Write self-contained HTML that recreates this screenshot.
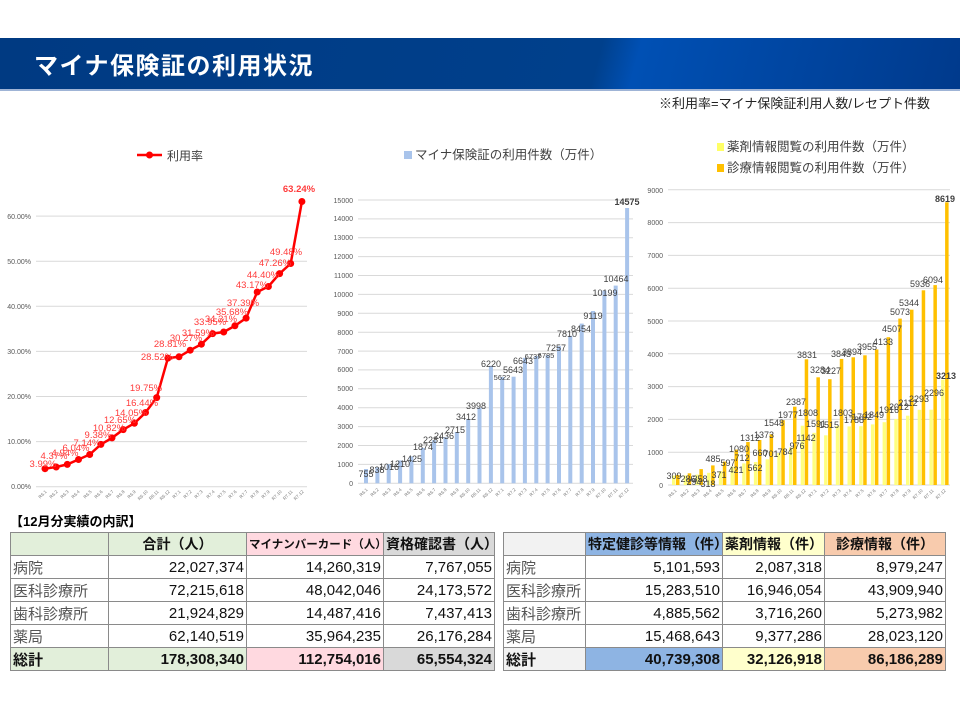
<!DOCTYPE html>
<html><head><meta charset="utf-8">
<style>
body{margin:0;width:960px;height:720px;background:#fff;position:relative;overflow:hidden;font-family:"Liberation Sans","Noto Sans CJK JP",sans-serif;}
.hdr{position:absolute;left:0;top:38px;width:960px;height:51px;background:linear-gradient(105deg,#003a82 0%,#00408c 62%,#0050b4 66%,#003a8c 100%);border-bottom:2px solid #9fb4d6;}
.hdr span{position:absolute;left:34px;top:8px;color:#fff;font-size:24px;font-weight:bold;letter-spacing:1.5px;}
.note{position:absolute;left:659px;top:93px;font-size:13px;color:#222;}
svg{position:absolute;left:0;top:0;}
table{position:absolute;border-collapse:collapse;font-size:15px;}
td{border:1px solid #8a8a8a;height:22px;padding:0 2px;text-align:right;color:#111;white-space:nowrap;}
td.l{text-align:left;color:#555;}
tr.h td{text-align:center;font-weight:bold;font-size:14px;}
tr.t td{font-weight:bold;}
.ttl{position:absolute;left:10px;top:511px;font-size:13px;font-weight:bold;}
</style></head><body>
<div class="hdr"><span>マイナ保険証の利用状況</span></div>
<div class="note">※利用率=マイナ保険証利用人数/レセプト件数</div>

<svg width="960" height="520" font-family="Liberation Sans, Noto Sans CJK JP, sans-serif">
<!-- LEFT CHART -->
<g stroke="#d9d9d9" stroke-width="1">
<line x1="36" x2="307" y1="486.7" y2="486.7"/><line x1="36" x2="307" y1="441.6" y2="441.6"/><line x1="36" x2="307" y1="396.5" y2="396.5"/><line x1="36" x2="307" y1="351.4" y2="351.4"/><line x1="36" x2="307" y1="306.3" y2="306.3"/><line x1="36" x2="307" y1="261.2" y2="261.2"/><line x1="36" x2="307" y1="216.1" y2="216.1"/>
</g>
<g font-size="7" fill="#595959" text-anchor="end">
<text x="31" y="489">0.00%</text><text x="31" y="444">10.00%</text><text x="31" y="399">20.00%</text><text x="31" y="354">30.00%</text><text x="31" y="309">40.00%</text><text x="31" y="264">50.00%</text><text x="31" y="219">60.00%</text>
</g>
<line x1="137" x2="162" y1="155" y2="155" stroke="#f00" stroke-width="2.5"/><circle cx="149.5" cy="155" r="3.5" fill="#f00"/>
<text x="167" y="160" font-size="12" fill="#404040">利用率</text>
<polyline fill="none" stroke="#f00" stroke-width="2.5" points="45,468.7 56.2,467 67.3,464.4 78.5,459.5 89.7,454.5 100.9,444.4 112,437.9 123.2,429.6 134.4,423.3 145.5,412.5 156.7,397.6 167.9,358.1 179,356.8 190.2,350.2 201.4,344.2 212.6,333.6 223.7,332 234.9,325.8 246.1,318.1 257.2,292 268.4,286.5 279.6,273.6 290.7,263.5 301.9,201.5"/>
<g fill="#f00">
<circle cx="45" cy="468.7" r="3.5"/><circle cx="56.2" cy="467" r="3.5"/><circle cx="67.3" cy="464.4" r="3.5"/><circle cx="78.5" cy="459.5" r="3.5"/><circle cx="89.7" cy="454.5" r="3.5"/><circle cx="100.9" cy="444.4" r="3.5"/><circle cx="112" cy="437.9" r="3.5"/><circle cx="123.2" cy="429.6" r="3.5"/><circle cx="134.4" cy="423.3" r="3.5"/><circle cx="145.5" cy="412.5" r="3.5"/><circle cx="156.7" cy="397.6" r="3.5"/><circle cx="167.9" cy="358.1" r="3.5"/><circle cx="179" cy="356.8" r="3.5"/><circle cx="190.2" cy="350.2" r="3.5"/><circle cx="201.4" cy="344.2" r="3.5"/><circle cx="212.6" cy="333.6" r="3.5"/><circle cx="223.7" cy="332" r="3.5"/><circle cx="234.9" cy="325.8" r="3.5"/><circle cx="246.1" cy="318.1" r="3.5"/><circle cx="257.2" cy="292" r="3.5"/><circle cx="268.4" cy="286.5" r="3.5"/><circle cx="279.6" cy="273.6" r="3.5"/><circle cx="290.7" cy="263.5" r="3.5"/><circle cx="301.9" cy="201.5" r="3.5"/>
</g>
<g font-size="9.5" fill="#ff3b3b" text-anchor="middle">
<text x="43" y="467">3.99%</text><text x="54" y="459">4.37%</text><text x="65" y="456">4.94%</text><text x="76" y="451">6.04%</text><text x="87" y="446">7.14%</text><text x="98" y="438">9.38%</text><text x="109" y="431">10.82%</text><text x="120" y="423">12.65%</text><text x="131" y="416">14.05%</text><text x="142" y="406">16.44%</text><text x="146" y="391">19.75%</text><text x="157" y="360">28.52%</text><text x="170" y="347">28.81%</text><text x="186" y="341">30.27%</text><text x="198" y="336">31.59%</text><text x="210" y="325">33.95%</text><text x="221" y="322">34.31%</text><text x="232" y="315">35.68%</text><text x="243" y="306">37.39%</text><text x="252" y="288">43.17%</text><text x="263" y="278">44.40%</text><text x="275" y="266">47.26%</text><text x="286" y="255">49.48%</text>
<text x="299" y="192" font-weight="bold">63.24%</text>
</g>
<g font-size="4.5" fill="#777" text-anchor="end">
<text transform="translate(47,492) rotate(-45)">R6.1</text><text transform="translate(58,492) rotate(-45)">R6.2</text><text transform="translate(69,492) rotate(-45)">R6.3</text><text transform="translate(80,492) rotate(-45)">R6.4</text><text transform="translate(92,492) rotate(-45)">R6.5</text><text transform="translate(103,492) rotate(-45)">R6.6</text><text transform="translate(114,492) rotate(-45)">R6.7</text><text transform="translate(125,492) rotate(-45)">R6.8</text><text transform="translate(136,492) rotate(-45)">R6.9</text><text transform="translate(148,492) rotate(-45)">R6.10</text><text transform="translate(159,492) rotate(-45)">R6.11</text><text transform="translate(170,492) rotate(-45)">R6.12</text><text transform="translate(181,492) rotate(-45)">R7.1</text><text transform="translate(192,492) rotate(-45)">R7.2</text><text transform="translate(203,492) rotate(-45)">R7.3</text><text transform="translate(215,492) rotate(-45)">R7.4</text><text transform="translate(226,492) rotate(-45)">R7.5</text><text transform="translate(237,492) rotate(-45)">R7.6</text><text transform="translate(248,492) rotate(-45)">R7.7</text><text transform="translate(259,492) rotate(-45)">R7.8</text><text transform="translate(270,492) rotate(-45)">R7.9</text><text transform="translate(282,492) rotate(-45)">R7.10</text><text transform="translate(293,492) rotate(-45)">R7.11</text><text transform="translate(304,492) rotate(-45)">R7.12</text>
</g>

<!-- MIDDLE CHART -->
<rect x="404" y="151" width="8" height="8" fill="#a9c4eb"/>
<text x="415" y="159" font-size="12.5" fill="#404040">マイナ保険証の利用件数（万件）</text>
<g stroke="#d9d9d9" stroke-width="1">
<line x1="358" x2="633" y1="483.3" y2="483.3"/><line x1="358" x2="633" y1="464.4" y2="464.4"/><line x1="358" x2="633" y1="445.5" y2="445.5"/><line x1="358" x2="633" y1="426.6" y2="426.6"/><line x1="358" x2="633" y1="407.7" y2="407.7"/><line x1="358" x2="633" y1="388.8" y2="388.8"/><line x1="358" x2="633" y1="369.9" y2="369.9"/><line x1="358" x2="633" y1="351.1" y2="351.1"/><line x1="358" x2="633" y1="332.2" y2="332.2"/><line x1="358" x2="633" y1="313.3" y2="313.3"/><line x1="358" x2="633" y1="294.4" y2="294.4"/><line x1="358" x2="633" y1="275.5" y2="275.5"/><line x1="358" x2="633" y1="256.6" y2="256.6"/><line x1="358" x2="633" y1="237.7" y2="237.7"/><line x1="358" x2="633" y1="218.9" y2="218.9"/><line x1="358" x2="633" y1="200" y2="200"/>
</g>
<g font-size="7" fill="#595959" text-anchor="end">
<text x="353" y="486">0</text><text x="353" y="467">1000</text><text x="353" y="448">2000</text><text x="353" y="429">3000</text><text x="353" y="410">4000</text><text x="353" y="391">5000</text><text x="353" y="372">6000</text><text x="353" y="354">7000</text><text x="353" y="335">8000</text><text x="353" y="316">9000</text><text x="353" y="297">10000</text><text x="353" y="278">11000</text><text x="353" y="259">12000</text><text x="353" y="240">13000</text><text x="353" y="221">14000</text><text x="353" y="203">15000</text>
</g>
<g fill="#a9c4eb">
<rect x="364" y="469" width="4" height="14.3"/><rect x="375.4" y="467.5" width="4" height="15.8"/><rect x="386.7" y="464.1" width="4" height="19.2"/><rect x="398.1" y="460.4" width="4" height="22.9"/><rect x="409.4" y="456.4" width="4" height="26.9"/><rect x="420.8" y="447.9" width="4" height="35.4"/><rect x="432.1" y="440.2" width="4" height="43.1"/><rect x="443.5" y="437.3" width="4" height="46"/><rect x="454.8" y="432" width="4" height="51.3"/><rect x="466.2" y="418.9" width="4" height="64.4"/><rect x="477.5" y="407.8" width="4" height="75.5"/><rect x="488.9" y="365.8" width="4" height="117.5"/><rect x="500.2" y="377.1" width="4" height="106.2"/><rect x="511.6" y="376.7" width="4" height="106.6"/><rect x="522.9" y="357.8" width="4" height="125.5"/><rect x="534.3" y="356" width="4" height="127.3"/><rect x="545.6" y="355.1" width="4" height="128.2"/><rect x="557" y="346.2" width="4" height="137.1"/><rect x="568.3" y="335.8" width="4" height="147.5"/><rect x="579.7" y="323.6" width="4" height="159.7"/><rect x="591" y="311" width="4" height="172.3"/><rect x="602.4" y="290.6" width="4" height="192.7"/><rect x="613.7" y="285.6" width="4" height="197.7"/><rect x="625.1" y="208" width="4" height="275.3"/>
</g>
<g font-size="9" fill="#404040" text-anchor="middle">
<text x="366" y="477">755</text><text x="377" y="473">838</text><text x="389" y="470">1016</text><text x="400" y="467">1210</text><text x="412" y="462">1425</text><text x="423" y="450">1874</text><text x="433" y="443">2281</text><text x="444" y="439">2436</text><text x="455" y="433">2715</text><text x="466" y="420">3412</text><text x="476" y="409">3998</text><text x="491" y="367">6220</text><text x="502" y="380" font-size="7.5">5622</text><text x="513" y="373">5643</text><text x="523" y="364">6643</text><text x="533" y="359" font-size="7.5">6737</text><text x="546" y="358" font-size="7.5">6785</text><text x="556" y="351">7257</text><text x="567" y="337">7810</text><text x="581" y="332">8454</text><text x="593" y="319">9119</text><text x="605" y="296">10199</text><text x="616" y="282">10464</text>
<text x="627" y="205" font-weight="bold">14575</text>
</g>
<g font-size="4.5" fill="#777" text-anchor="end">
<text transform="translate(368,490) rotate(-45)">R6.1</text><text transform="translate(379,490) rotate(-45)">R6.2</text><text transform="translate(391,490) rotate(-45)">R6.3</text><text transform="translate(402,490) rotate(-45)">R6.4</text><text transform="translate(413,490) rotate(-45)">R6.5</text><text transform="translate(425,490) rotate(-45)">R6.6</text><text transform="translate(436,490) rotate(-45)">R6.7</text><text transform="translate(447,490) rotate(-45)">R6.8</text><text transform="translate(459,490) rotate(-45)">R6.9</text><text transform="translate(470,490) rotate(-45)">R6.10</text><text transform="translate(481,490) rotate(-45)">R6.11</text><text transform="translate(493,490) rotate(-45)">R6.12</text><text transform="translate(504,490) rotate(-45)">R7.1</text><text transform="translate(516,490) rotate(-45)">R7.2</text><text transform="translate(527,490) rotate(-45)">R7.3</text><text transform="translate(538,490) rotate(-45)">R7.4</text><text transform="translate(550,490) rotate(-45)">R7.5</text><text transform="translate(561,490) rotate(-45)">R7.6</text><text transform="translate(572,490) rotate(-45)">R7.7</text><text transform="translate(584,490) rotate(-45)">R7.8</text><text transform="translate(595,490) rotate(-45)">R7.9</text><text transform="translate(606,490) rotate(-45)">R7.10</text><text transform="translate(618,490) rotate(-45)">R7.11</text><text transform="translate(629,490) rotate(-45)">R7.12</text>
</g>

<!-- RIGHT CHART -->
<rect x="717" y="143" width="7" height="8" fill="#ffff66"/>
<text x="727" y="151" font-size="12.5" fill="#404040">薬剤情報閲覧の利用件数（万件）</text>
<rect x="717" y="164" width="7" height="8" fill="#ffc000"/>
<text x="727" y="172" font-size="12.5" fill="#404040">診療情報閲覧の利用件数（万件）</text>
<g stroke="#d9d9d9" stroke-width="1">
<line x1="668" x2="950" y1="485" y2="485"/><line x1="668" x2="950" y1="452.2" y2="452.2"/><line x1="668" x2="950" y1="419.4" y2="419.4"/><line x1="668" x2="950" y1="386.6" y2="386.6"/><line x1="668" x2="950" y1="353.8" y2="353.8"/><line x1="668" x2="950" y1="321" y2="321"/><line x1="668" x2="950" y1="288.2" y2="288.2"/><line x1="668" x2="950" y1="255.4" y2="255.4"/><line x1="668" x2="950" y1="222.6" y2="222.6"/><line x1="668" x2="950" y1="189.8" y2="189.8"/>
</g>
<g font-size="7" fill="#595959" text-anchor="end">
<text x="663" y="488">0</text><text x="663" y="455">1000</text><text x="663" y="422">2000</text><text x="663" y="389">3000</text><text x="663" y="357">4000</text><text x="663" y="324">5000</text><text x="663" y="291">6000</text><text x="663" y="258">7000</text><text x="663" y="225">8000</text><text x="663" y="193">9000</text>
</g>
<g fill="#ffff80">
<rect x="672" y="475.6" width="3.5" height="9.4"/><rect x="683.7" y="475.4" width="3.5" height="9.6"/><rect x="695.4" y="474.6" width="3.5" height="10.4"/><rect x="707.1" y="472.8" width="3.5" height="12.2"/><rect x="718.8" y="471.2" width="3.5" height="13.8"/><rect x="730.5" y="466.6" width="3.5" height="18.4"/><rect x="742.2" y="463.4" width="3.5" height="21.6"/><rect x="753.9" y="462" width="3.5" height="23"/><rect x="765.6" y="459.3" width="3.5" height="25.7"/><rect x="777.3" y="453" width="3.5" height="32"/><rect x="789" y="447.5" width="3.5" height="37.5"/><rect x="800.7" y="425.7" width="3.5" height="59.3"/><rect x="812.4" y="432.8" width="3.5" height="52.2"/><rect x="824.1" y="435.3" width="3.5" height="49.7"/><rect x="835.8" y="425.9" width="3.5" height="59.1"/><rect x="847.5" y="426.4" width="3.5" height="58.6"/><rect x="859.2" y="426.2" width="3.5" height="58.8"/><rect x="870.9" y="424.4" width="3.5" height="60.6"/><rect x="882.6" y="422.2" width="3.5" height="62.8"/><rect x="894.3" y="419" width="3.5" height="66"/><rect x="906" y="415.7" width="3.5" height="69.3"/><rect x="917.7" y="409.8" width="3.5" height="75.2"/><rect x="929.4" y="409.7" width="3.5" height="75.3"/><rect x="941.1" y="379.6" width="3.5" height="105.4"/>
</g>
<g fill="#ffc000">
<rect x="676" y="474.9" width="3.5" height="10.1"/><rect x="687.7" y="473.3" width="3.5" height="11.7"/><rect x="699.4" y="469.1" width="3.5" height="15.9"/><rect x="711.1" y="465.4" width="3.5" height="19.6"/><rect x="722.8" y="461.6" width="3.5" height="23.4"/><rect x="734.5" y="449.6" width="3.5" height="35.4"/><rect x="746.2" y="442" width="3.5" height="43"/><rect x="757.9" y="440" width="3.5" height="45"/><rect x="769.6" y="434.2" width="3.5" height="50.8"/><rect x="781.3" y="420.2" width="3.5" height="64.8"/><rect x="793" y="406.7" width="3.5" height="78.3"/><rect x="804.7" y="359.3" width="3.5" height="125.7"/><rect x="816.4" y="377.3" width="3.5" height="107.7"/><rect x="828.1" y="379.2" width="3.5" height="105.8"/><rect x="839.8" y="358.9" width="3.5" height="126.1"/><rect x="851.5" y="357.3" width="3.5" height="127.7"/><rect x="863.2" y="355.3" width="3.5" height="129.7"/><rect x="874.9" y="349.4" width="3.5" height="135.6"/><rect x="886.6" y="337.2" width="3.5" height="147.8"/><rect x="898.3" y="318.6" width="3.5" height="166.4"/><rect x="910" y="309.7" width="3.5" height="175.3"/><rect x="921.7" y="290.3" width="3.5" height="194.7"/><rect x="933.4" y="285.1" width="3.5" height="199.9"/><rect x="945.1" y="202.3" width="3.5" height="282.7"/>
</g>
<g font-size="9" fill="#404040" text-anchor="middle">
<text x="674" y="479">309</text><text x="688" y="482">286</text><text x="694" y="485">294</text><text x="700" y="482">358</text><text x="708" y="487">318</text><text x="713" y="462">485</text><text x="719" y="478">371</text><text x="728" y="466">597</text><text x="736" y="473">421</text><text x="742" y="461">712</text><text x="755" y="471">562</text><text x="739" y="452">1080</text><text x="760" y="456">660</text><text x="750" y="441">1312</text><text x="771" y="457">701</text><text x="764" y="438">1373</text><text x="785" y="455">784</text><text x="774" y="426">1548</text><text x="797" y="449">976</text><text x="788" y="418">1977</text><text x="806" y="441">1142</text><text x="796" y="405">2387</text><text x="808" y="416">1808</text><text x="807" y="358">3831</text><text x="816" y="427">1591</text><text x="820" y="373">3284</text><text x="829" y="428">1515</text><text x="831" y="374">3227</text><text x="843" y="416">1803</text><text x="841" y="357">3843</text><text x="854" y="423">1788</text><text x="852" y="355">3894</text><text x="862" y="420">1792</text><text x="867" y="350">3955</text><text x="874" y="418">1849</text><text x="883" y="345">4133</text><text x="889" y="413">1916</text><text x="892" y="332">4507</text><text x="899" y="410">2012</text><text x="900" y="315">5073</text><text x="908" y="406">2112</text><text x="909" y="306">5344</text><text x="919" y="402">2293</text><text x="920" y="287">5936</text><text x="934" y="396">2296</text><text x="933" y="283">6094</text>
<text x="946" y="379" font-weight="bold">3213</text><text x="945" y="202" font-weight="bold">8619</text>
</g>
<g font-size="4.5" fill="#777" text-anchor="end">
<text transform="translate(677,491) rotate(-45)">R6.1</text><text transform="translate(689,491) rotate(-45)">R6.2</text><text transform="translate(700,491) rotate(-45)">R6.3</text><text transform="translate(712,491) rotate(-45)">R6.4</text><text transform="translate(724,491) rotate(-45)">R6.5</text><text transform="translate(736,491) rotate(-45)">R6.6</text><text transform="translate(747,491) rotate(-45)">R6.7</text><text transform="translate(759,491) rotate(-45)">R6.8</text><text transform="translate(771,491) rotate(-45)">R6.9</text><text transform="translate(782,491) rotate(-45)">R6.10</text><text transform="translate(794,491) rotate(-45)">R6.11</text><text transform="translate(806,491) rotate(-45)">R6.12</text><text transform="translate(817,491) rotate(-45)">R7.1</text><text transform="translate(829,491) rotate(-45)">R7.2</text><text transform="translate(841,491) rotate(-45)">R7.3</text><text transform="translate(852,491) rotate(-45)">R7.4</text><text transform="translate(864,491) rotate(-45)">R7.5</text><text transform="translate(876,491) rotate(-45)">R7.6</text><text transform="translate(888,491) rotate(-45)">R7.7</text><text transform="translate(899,491) rotate(-45)">R7.8</text><text transform="translate(911,491) rotate(-45)">R7.9</text><text transform="translate(923,491) rotate(-45)">R7.10</text><text transform="translate(934,491) rotate(-45)">R7.11</text><text transform="translate(946,491) rotate(-45)">R7.12</text>
</g>
</svg>

<div class="ttl">【12月分実績の内訳】</div>
<table style="left:10px;top:532px;width:484px;table-layout:fixed;">
<colgroup><col style="width:98px"><col style="width:138px"><col style="width:137px"><col style="width:111px"></colgroup>
<tr class="h"><td style="background:#e2efda"></td><td style="background:#e2efda">合計（人）</td><td style="background:#ffd9e0;font-size:11.5px">マイナンバーカード（人）</td><td style="background:#d9d9d9">資格確認書（人）</td></tr>
<tr><td class="l">病院</td><td>22,027,374</td><td>14,260,319</td><td>7,767,055</td></tr>
<tr><td class="l">医科診療所</td><td>72,215,618</td><td>48,042,046</td><td>24,173,572</td></tr>
<tr><td class="l">歯科診療所</td><td>21,924,829</td><td>14,487,416</td><td>7,437,413</td></tr>
<tr><td class="l">薬局</td><td>62,140,519</td><td>35,964,235</td><td>26,176,284</td></tr>
<tr class="t"><td class="l" style="background:#e2efda;color:#111">総計</td><td style="background:#e2efda">178,308,340</td><td style="background:#ffd9e0">112,754,016</td><td style="background:#d9d9d9">65,554,324</td></tr>
</table>
<table style="left:503px;top:532px;width:442px;table-layout:fixed;">
<colgroup><col style="width:82px"><col style="width:137px"><col style="width:102px"><col style="width:121px"></colgroup>
<tr class="h"><td style="background:#f2f2f2"></td><td style="background:#8eb4e3">特定健診等情報（件）</td><td style="background:#ffffcc">薬剤情報（件）</td><td style="background:#f8cbad">診療情報（件）</td></tr>
<tr><td class="l">病院</td><td>5,101,593</td><td>2,087,318</td><td>8,979,247</td></tr>
<tr><td class="l">医科診療所</td><td>15,283,510</td><td>16,946,054</td><td>43,909,940</td></tr>
<tr><td class="l">歯科診療所</td><td>4,885,562</td><td>3,716,260</td><td>5,273,982</td></tr>
<tr><td class="l">薬局</td><td>15,468,643</td><td>9,377,286</td><td>28,023,120</td></tr>
<tr class="t"><td class="l" style="background:#f2f2f2;color:#111">総計</td><td style="background:#8eb4e3">40,739,308</td><td style="background:#ffffcc">32,126,918</td><td style="background:#f8cbad">86,186,289</td></tr>
</table>
</body></html>
